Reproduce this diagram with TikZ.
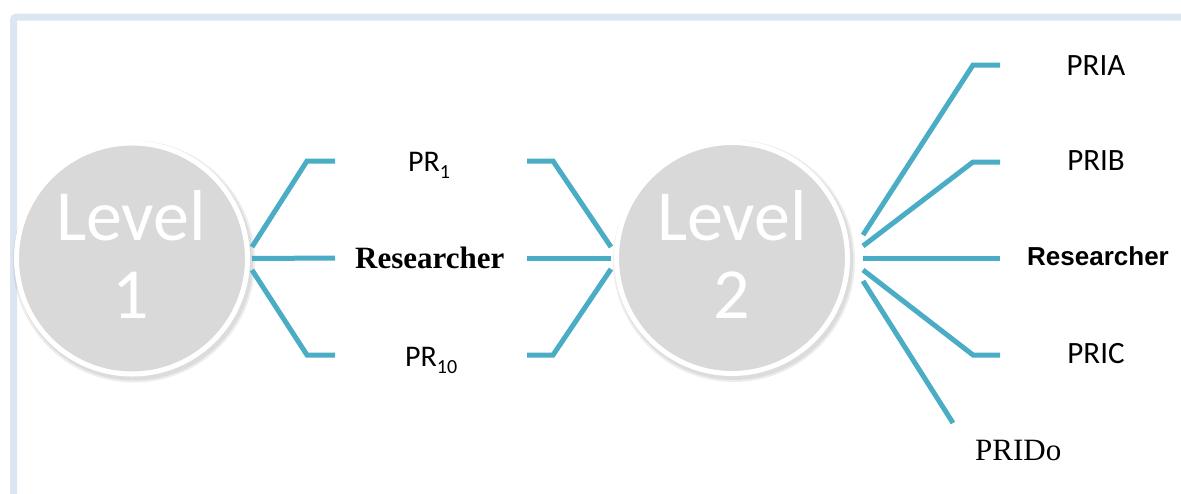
\documentclass[tikz,border=0pt]{standalone}
\usepackage{fontspec}
\setmainfont{Carlito}
\newfontfamily\timesf{Liberation Serif}
\newfontfamily\arialf{Liberation Sans}
\usetikzlibrary{calc}
\definecolor{tealc}{HTML}{4BACC6}
\definecolor{frameblue}{HTML}{DCE6F2}
\definecolor{circgray}{HTML}{D9D9D9}
\tikzset{
  conn/.style={draw=tealc,line width=5pt},
  lvl/.style={circle,fill=circgray,draw=white,line width=5pt,minimum size=231pt,inner sep=0pt,outer sep=0pt},
  shade/.style={circle,fill=black,opacity=0.07,minimum size=#1,inner sep=0pt,draw=none},
  lvltext/.style={text=white,font=\fontsize{72}{78}\selectfont,anchor=base,inner sep=0pt},
  prtext/.style={font=\fontsize{30}{30}\selectfont,anchor=base west,inner sep=0pt},
  pritext/.style={font=\fontsize{31}{31}\selectfont,anchor=base,inner sep=0pt},
  timestext/.style={font=\timesf\fontsize{31}{31}\selectfont,anchor=base west,inner sep=0pt},
  heavytext/.style={font=\arialf\bfseries\fontsize{26}{26}\selectfont,anchor=base west,inner sep=0pt}
}
\newcommand{\subsc}[1]{\raisebox{-7pt}{\fontsize{20}{20}\selectfont #1}}
\begin{document}
\begin{tikzpicture}[x=1pt,y=-1pt]
\useasboundingbox (0,0) rectangle (1181,493);
% frame
\draw[frameblue,line width=7pt,rounded corners=3pt] (13.5,500) -- (13.5,17) -- (1190,17);
% circle shadows
\foreach \p in {{(134,261.5)},{(734,261)}}{
  \node[shade=242pt] at \p {};
  \node[shade=238pt] at \p {};
}
% circles
\node[lvl] (L1) at (132,258.5) {};
\node[lvl] (L2) at (732,258) {};
\node[lvltext] (L1a) at (131,240) {Level};
\node[lvltext] (L1b) at (131,318) {1};
\node[lvltext] (L2a) at (732,240) {Level};
\node[lvltext] (L2b) at (732,318) {2};
% labels
\node[prtext] (pr1) at (408,171) {PR\subsc{1}};
\node[timestext,font=\timesf\bfseries\fontsize{31}{31}\selectfont] (res1) at (355,268) {Researcher};
\node[prtext] (pr10) at (405,366) {PR\subsc{10}};
\node[pritext] (pria) at (1096,75) {PRIA};
\node[pritext] (prib) at (1096,170) {PRIB};
\node[heavytext] (res2) at (1027,265) {Researcher};
\node[pritext] (pric) at (1096,363) {PRIC};
\node[timestext] (prid) at (975,460) {PRIDo};
% coordinates
\coordinate (a1b) at (307,161); \coordinate (a1e) at (335,161);
\coordinate (a2e) at (335,258);
\coordinate (a3b) at (307,355); \coordinate (a3e) at (335,355);
\coordinate (b1s) at (527,161); \coordinate (b1b) at (553,161);
\coordinate (b2s) at (527,258);
\coordinate (b3s) at (527,355); \coordinate (b3b) at (553,355);
\coordinate (c1b) at (973,65);  \coordinate (c1e) at (1000,65);
\coordinate (c2b) at (973,162); \coordinate (c2e) at (1000,162);
\coordinate (c3e) at (1000,258);
\coordinate (c4b) at (973,355); \coordinate (c4e) at (1000,355);
\coordinate (c5e) at (953,423);
% connectors level 1
\draw[conn] ($(L1.center)+(120,-11.5)$) -- (a1b) -- (a1e);
\draw[conn] ($(L1.center)+(120,0)$) -- (a2e);
\draw[conn] ($(L1.center)+(120,11.5)$) -- (a3b) -- (a3e);
% connectors into level 2
\draw[conn] (b1s) -- (b1b) -- ($(L2.center)+(-121,-11)$);
\draw[conn] (b2s) -- ($(L2.center)+(-121,0)$);
\draw[conn] (b3s) -- (b3b) -- ($(L2.center)+(-121,11)$);
% connectors out of level 2
\draw[conn] ($(L2.center)+(131,-23)$) -- (c1b) -- (c1e);
\draw[conn] ($(L2.center)+(131,-12)$) -- (c2b) -- (c2e);
\draw[conn] ($(L2.center)+(131,0)$) -- (c3e);
\draw[conn] ($(L2.center)+(131,12)$) -- (c4b) -- (c4e);
\draw[conn] ($(L2.center)+(131,23)$) -- (c5e);
\end{tikzpicture}
\end{document}
